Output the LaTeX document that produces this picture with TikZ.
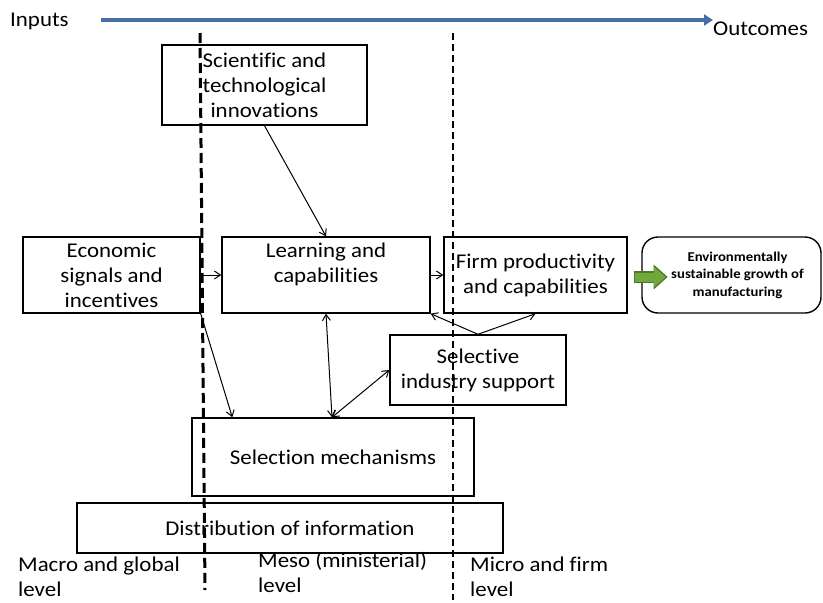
\documentclass[tikz,border=0pt]{standalone}
\usepackage{fontspec}
\setmainfont{Carlito}[FakeStretch=1.09, Ligatures=CommonOff]
\usetikzlibrary{calc,arrows.meta}
\definecolor{axisblue}{RGB}{70,112,165}
\definecolor{growgreen}{RGB}{112,168,60}
\definecolor{growdark}{RGB}{80,120,40}
\tikzset{
	box/.style={draw, line width=1.4pt, fill=white, align=center, inner sep=0pt,
		font=\fontsize{21}{25}\selectfont},
	link/.style={line width=1pt, -{Straight Barb[length=6pt,width=8pt]}},
	twolink/.style={line width=1pt, {Straight Barb[length=6pt,width=8pt]}-{Straight Barb[length=6pt,width=8pt]}},
	levellabel/.style={anchor=north west, align=left, inner sep=0pt,
		font=\fontsize{21}{25}\selectfont}
}

\begin{document}
\begin{tikzpicture}[x=1pt,y=-1pt]
			%%%%% START %%%%%
			\useasboundingbox (0,0) rectangle (823,603);
			
			\node[anchor=west, inner sep=0pt, font=\fontsize{21}{25}\selectfont] (inputs) at (10,21) {Inputs};
			\node[anchor=west, inner sep=0pt, font=\fontsize{21}{25}\selectfont] (outcomes) at (713,29) {Outcomes};
			\draw[line width=4pt, color=axisblue, -{Triangle[length=9pt,width=11pt]}] ($(inputs.east)+(32,-1)$) -- ($(outcomes.west |- inputs.east)+(0,-1)$);
			
			\node[box, minimum width=205, minimum height=80] (sci) at (264.5,85) {Scientific and\\technological\\innovations};
			\node[box, minimum width=177, minimum height=76] (econ) at (111.5,275) {Economic\\signals and\\incentives};
			\node[box, minimum width=208, minimum height=76] (learn) at (326,275) {Learning and\\capabilities\\\mbox{}};
			\node[box, minimum width=183, minimum height=76] (firm) at (535.5,275) {Firm productivity\\and capabilities};
			\node[box, rounded corners=16pt, minimum width=179, minimum height=76] (env) at (731.5,275) {};
			\node[align=center, inner sep=0pt, font=\fontsize{13.5}{17.5}\selectfont\bfseries] (envtext) at ($(env.center)+(6,0)$) {Environmentally\\sustainable growth of\\manufacturing};
			\node[box, minimum width=176, minimum height=70] (selective) at (478,370) {Selective\\industry support};
			\node[box, minimum width=282, minimum height=78] (selection) at (333,457) {Selection mechanisms};
			\node[box, minimum width=426, minimum height=50] (distrib) at (290,528) {Distribution of information};
			
			\draw[line width=12pt, color=growdark, -{Triangle[length=14pt,width=24pt]}] ($(firm.east)+(6,2)$) -- ($(firm.east)+(40,2)$);
			\draw[line width=9pt, color=growgreen, -{Triangle[length=11.5pt,width=19pt]}] ($(firm.east)+(7,2)$) -- ($(firm.east)+(38,2)$);
			
			\draw[link] (sci.south) -- (learn.north);
			\draw[link] (econ.east) -- (learn.west);
			\draw[link] (learn.east) -- (firm.west);
			\draw[link] (econ.south east) -- ($(selection.north west)+(41,0)$);
			\draw[twolink] (learn.south) -- ($(selection.north)+(-1,0)$);
			\draw[twolink] ($(selection.north)+(-1,0)$) -- (selective.west);
			\draw[link] (selective.north) -- (learn.south east);
			\draw[link] (selective.north) -- (firm.south);
			
			\coordinate (macrotop) at (200,33);
			\coordinate (macrobot) at (205,590);
			\coordinate (microtop) at (453,33);
			\coordinate (microbot) at (453,600);
			\draw[line width=3pt, dash pattern=on 10pt off 5pt] (macrotop) -- (macrobot);
			\draw[line width=2pt, dash pattern=on 7pt off 4pt] (microtop) -- (microbot);
			
			\node[levellabel] (macro) at (18,557) {Macro and global\\level};
			\node[levellabel] (meso) at (258,552) {Meso (ministerial)\\level};
			\node[levellabel] (micro) at (470,557) {Micro and firm\\level};
			
			%%%%% END %%%%%
		\end{tikzpicture}
\end{document}
